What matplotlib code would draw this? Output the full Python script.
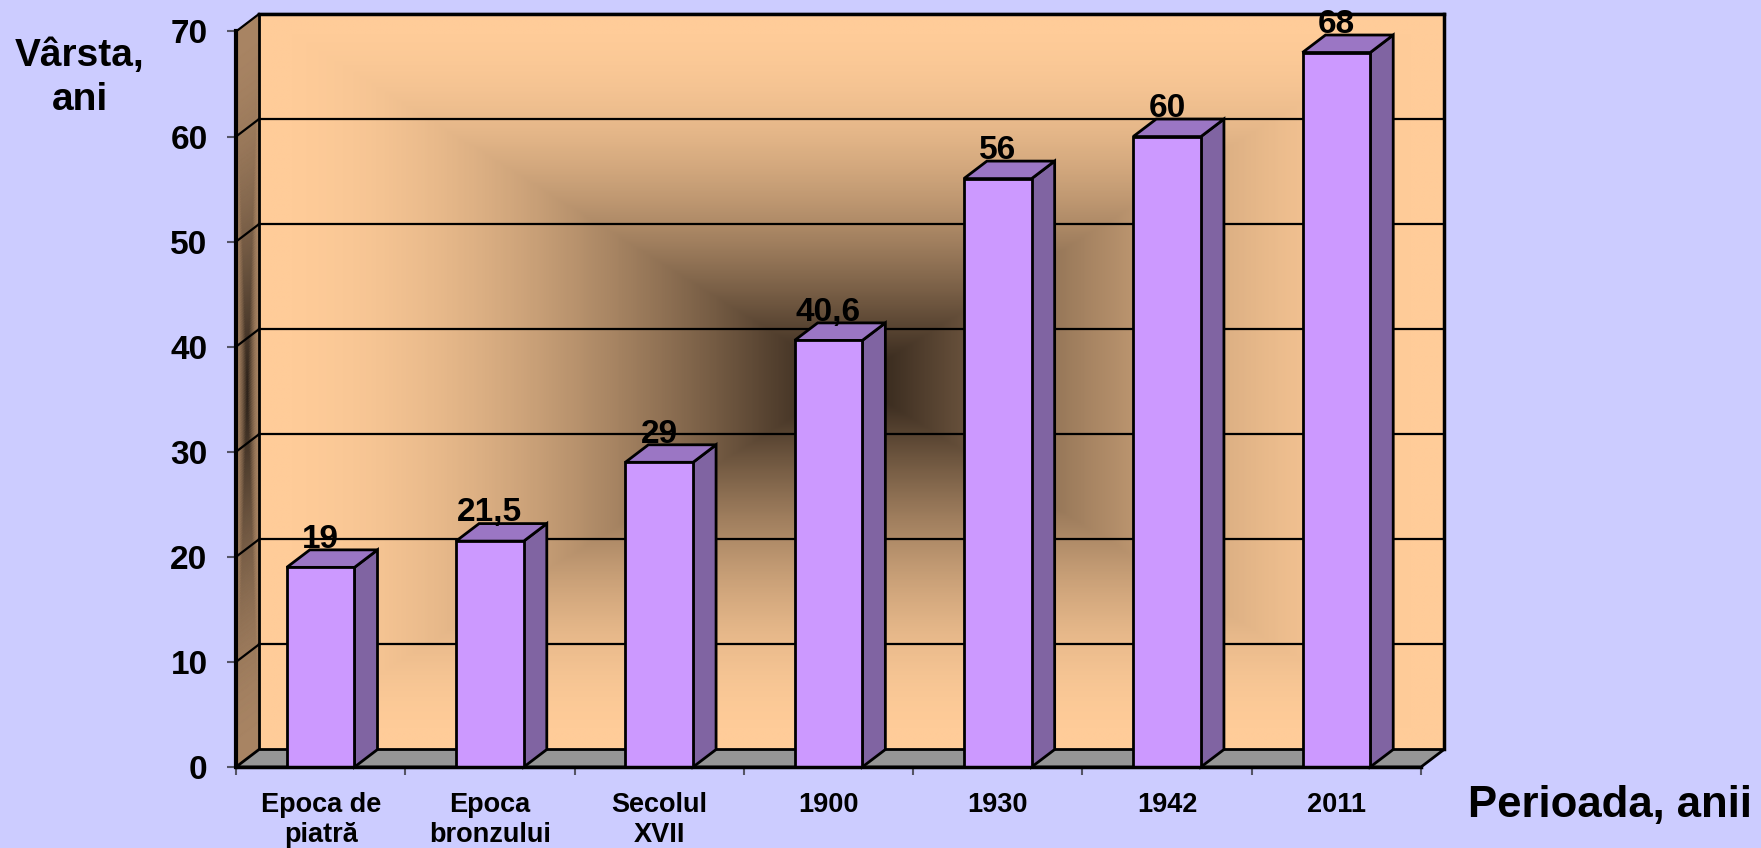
import numpy as np
import matplotlib
matplotlib.use('Agg')
import matplotlib.pyplot as plt
from matplotlib.patches import Polygon
from matplotlib.colors import LinearSegmentedColormap

# ---- data ----
categories = ["Epoca de\npiatră", "Epoca\nbronzului", "Secolul\nXVII", "1900", "1930", "1942", "2011"]
values = [19, 21.5, 29, 40.6, 56, 60, 68]
value_labels = ["19", "21,5", "29", "40,6", "56", "60", "68"]
y_ticks = [0, 10, 20, 30, 40, 50, 60, 70]
y_title = "Vârsta,\nani"
x_title = "Perioada, anii"

plt.rcParams['font.family'] = ['Liberation Sans', 'DejaVu Sans']
plt.rcParams['font.weight'] = 'bold'

W, H = 1761, 848
fig = plt.figure(figsize=(W / 100, H / 100), dpi=100, facecolor='#CCCCFF')
ax = fig.add_axes([236 / W, 81 / H, 1185 / W, 735.5 / H])
ax.set_facecolor('none')
n = len(categories)
ymax = y_ticks[-1]
DX, DY = 0.1359, 1.666   # oblique depth offset in data units

# ---- gradients ----
def rect_dist(nx, ny):
    u = np.linspace(-1, 1, nx)
    v = np.linspace(-1, 1, ny)
    U, V = np.meshgrid(u, v)
    return np.maximum(np.abs(U), np.abs(V))

wall_cmap = LinearSegmentedColormap.from_list('wall', ['#281d14', '#FFCC99'])
side_cmap = LinearSegmentedColormap.from_list('side', ['#2a2018', '#A88463'])

d = np.sin(np.pi / 2 * rect_dist(600, 400))
im = ax.imshow(d, cmap=wall_cmap, vmin=0, vmax=1, origin='lower', aspect='auto',
               extent=(-0.5 + DX, n - 0.5 + DX, DY, ymax + DY), zorder=0,
               interpolation='bilinear')
im.set_clip_on(False)

# side wall (left), parallelogram mesh
nu, nv = 40, 300
uu = np.linspace(0, 1, nu)
vv = np.linspace(0, 1, nv)
UU, VV = np.meshgrid(uu, vv)
XS = -0.5 + UU * DX
YS = VV * ymax + UU * DY
ds = np.sin(np.pi / 2 * np.maximum(np.abs(UU - 0.5) / 0.5, np.abs(VV - 0.5) / 0.5))
qm = ax.pcolormesh(XS, YS, ds, cmap=side_cmap, vmin=0, vmax=1, shading='gouraud', zorder=0)
qm.set_clip_on(False)

# gridlines on back & side walls
for yv in y_ticks[1:]:
    ax.plot([-0.5 + DX, n - 0.5 + DX], [yv + DY, yv + DY], color='black', lw=1.6, zorder=1, clip_on=False)
    ax.plot([-0.5, -0.5 + DX], [yv, yv + DY], color='black', lw=1.6, zorder=1, clip_on=False)
# back wall frame
ax.plot([-0.5 + DX, -0.5 + DX], [DY, ymax + DY], color='black', lw=2, zorder=1.2, clip_on=False)
ax.plot([n - 0.5 + DX, n - 0.5 + DX], [DY, ymax + DY], color='black', lw=2.5, zorder=1.2, clip_on=False)
ax.plot([-0.5 + DX, n - 0.5 + DX], [ymax + DY, ymax + DY], color='black', lw=2.5, zorder=1.2, clip_on=False)

# floor
floor = Polygon([(-0.5, 0), (n - 0.5, 0), (n - 0.5 + DX, DY), (-0.5 + DX, DY)], closed=True,
                facecolor='#969696', edgecolor='black', lw=2, zorder=1.5, clip_on=False)
ax.add_patch(floor)

# bars
hw = 0.2
for i, v in enumerate(values):
    front = Polygon([(i - hw, 0), (i + hw, 0), (i + hw, v), (i - hw, v)], closed=True,
                    facecolor='#CC99FF', edgecolor='black', lw=2, zorder=3, clip_on=False)
    side = Polygon([(i + hw, 0), (i + hw + DX, DY), (i + hw + DX, v + DY), (i + hw, v)], closed=True,
                   facecolor='#8064A2', edgecolor='black', lw=2, zorder=3, clip_on=False)
    top = Polygon([(i - hw, v), (i + hw, v), (i + hw + DX, v + DY), (i - hw + DX, v + DY)], closed=True,
                  facecolor='#9B76C4', edgecolor='black', lw=2, zorder=3, clip_on=False)
    for p in (side, top, front):
        ax.add_patch(p)
    ax.text(i, v + DY + 0.2, value_labels[i], ha='center', va='baseline', fontsize=24,
            fontweight='bold', zorder=5, clip_on=False)

ax.set_xlim(-0.5, n - 0.5)
ax.set_ylim(0, ymax)

# spines
for s in ('top', 'right'):
    ax.spines[s].set_visible(False)
ax.spines['left'].set_linewidth(3)
ax.spines['bottom'].set_linewidth(2.5)
ax.spines['left'].set_zorder(6)
ax.spines['bottom'].set_zorder(6)

# ticks
ax.set_yticks(y_ticks)
ax.set_yticklabels([str(t) for t in y_ticks])
ax.tick_params(axis='y', direction='out', length=6.5, width=1.5, color='#555566',
               labelsize=24, pad=14)
ax.set_xticks(np.arange(-0.5, n, 1.0))
ax.set_xticklabels([''] * (n + 1))
ax.set_xticks(np.arange(n), minor=True)
ax.set_xticklabels(categories, minor=True, fontsize=19.5, fontweight='bold', linespacing=1.2)
ax.tick_params(axis='x', which='major', direction='out', length=6, width=1.5, color='#555566')
ax.tick_params(axis='x', which='minor', length=0, pad=18)
for lbl in ax.get_yticklabels():
    lbl.set_fontweight('bold')

# axis titles
fig.text(80 / W, 1 - 38 / H, y_title, ha='center', va='top', fontsize=28, fontweight='bold',
         linespacing=1.3)
fig.text(1468 / W, 1 - 805 / H, x_title, ha='left', va='center', fontsize=31.5, fontweight='bold')

fig.savefig('out.png', dpi=100, facecolor=fig.get_facecolor())
